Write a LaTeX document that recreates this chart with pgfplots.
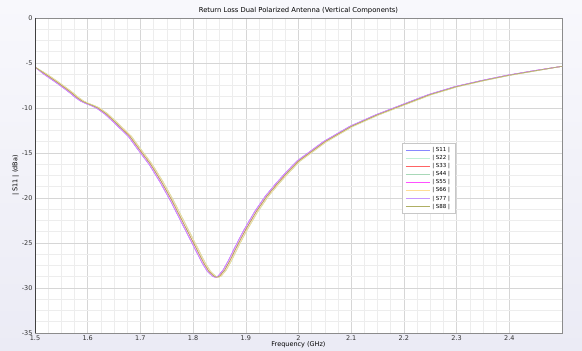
\documentclass[border=0pt]{standalone}
\usepackage{fontspec}
\setmainfont{DejaVu Sans}
\usepackage{pgfplots}
\pgfplotsset{compat=1.18}
\usepackage{pgfplotstable}

\definecolor{bgtop}{HTML}{F8F8FC}
\definecolor{bgbot}{HTML}{EBEBF5}
\definecolor{gridmaj}{HTML}{D6D6D6}
\definecolor{gridmin}{HTML}{EDEDED}
\definecolor{cS11}{HTML}{8888FF}
\definecolor{cS22}{HTML}{BFEFD6}
\definecolor{cS33}{HTML}{FF6464}
\definecolor{cS44}{HTML}{A8D8B8}
\definecolor{cS55}{HTML}{FF50FF}
\definecolor{cS66}{HTML}{FFDC96}
\definecolor{cS77}{HTML}{C896FF}
\definecolor{cS88}{HTML}{AFAF64}

% Return loss of the eight vertical ports; the ports differ by a small
% frequency offset, so three frequency columns share one magnitude column.
\pgfplotstableread{
f      fA     fC     dB
1.50   1.500  1.500  -5.45
1.52   1.517  1.523  -6.25
1.54   1.537  1.543  -7.05
1.56   1.557  1.563  -7.90
1.57   1.567  1.573  -8.35
1.58   1.577  1.583  -8.85
1.59   1.587  1.593  -9.25
1.60   1.597  1.603  -9.52
1.61   1.607  1.613  -9.74
1.62   1.617  1.623  -10.02
1.635  1.632  1.638  -10.65
1.65   1.647  1.653  -11.45
1.68   1.677  1.683  -13.15
1.70   1.697  1.703  -14.75
1.72   1.717  1.723  -16.30
1.74   1.737  1.743  -18.20
1.76   1.757  1.763  -20.30
1.78   1.777  1.783  -22.60
1.80   1.797  1.803  -24.90
1.82   1.817  1.823  -27.20
1.83   1.827  1.833  -28.15
1.84   1.837  1.843  -28.70
1.845  1.842  1.848  -28.80
1.85   1.847  1.853  -28.70
1.86   1.857  1.863  -28.00
1.87   1.867  1.873  -26.95
1.88   1.877  1.883  -25.75
1.89   1.887  1.893  -24.60
1.90   1.897  1.903  -23.50
1.92   1.917  1.923  -21.50
1.94   1.937  1.943  -19.80
1.96   1.957  1.963  -18.40
1.98   1.977  1.983  -17.10
2.00   1.997  2.003  -15.90
2.05   2.047  2.053  -13.75
2.10   2.097  2.103  -12.05
2.15   2.147  2.153  -10.75
2.20   2.197  2.203  -9.62
2.25   2.247  2.253  -8.50
2.30   2.297  2.303  -7.62
2.35   2.347  2.353  -6.95
2.40   2.397  2.403  -6.35
2.45   2.447  2.453  -5.85
2.50   2.500  2.500  -5.37
}\rl

\begin{document}
\begin{tikzpicture}[x=1pt,y=1pt]
\shade[top color=bgtop, bottom color=bgbot] (0,0) rectangle (582,351);
\useasboundingbox (0,0) rectangle (582,351);
\begin{axis}[
  at={(35pt,18pt)}, anchor=south west,
  width=527pt, height=315pt, scale only axis,
  xmin=1.5, xmax=2.5, ymin=-35, ymax=0,
  xtick={1.5,1.6,1.7,1.8,1.9,2,2.1,2.2,2.3,2.4},
  ytick={-35,-30,-25,-20,-15,-10,-5,0},
  minor x tick num=3, minor y tick num=3,
  grid=both,
  major grid style={draw=gridmaj, line width=0.6pt},
  minor grid style={draw=gridmin, line width=0.5pt},
  major tick length=0pt, minor tick length=0pt,
  axis background/.style={fill=white},
  axis line style={draw=black!45, line width=0.6pt},
  /pgf/number format/assume math mode=true,
  ticklabel style={font=\fontsize{6.5}{7}\selectfont, text=black!80},
  xticklabel style={yshift=1pt},
  yticklabel style={xshift=1pt},
  title={Return Loss Dual Polarized Antenna (Vertical Components)},
  title style={font=\fontsize{6.8}{8}\selectfont, yshift=-5.5pt},
  xlabel={Frequency (GHz)},
  xlabel style={font=\fontsize{6.5}{7}\selectfont, yshift=6pt},
  ylabel={| S11 | (dBa)},
  ylabel style={font=\fontsize{6.5}{7}\selectfont, yshift=-4pt},
  legend style={at={(0.697,0.603)}, anchor=north west, draw=black!22,
    fill=white, font=\fontsize{5.5}{6}\selectfont, row sep=-1.6pt,
    inner xsep=3pt, inner ysep=2pt},
  legend cell align=left,
  legend image code/.code={\draw[#1, line width=0.8pt] (0pt,0pt) -- (24pt,0pt);},
  every axis plot/.append style={line width=0.6pt},
]
\addplot[cS11, no marks] table[x=fA, y=dB] {\rl};
\addlegendentry{| S11 |}
\addplot[cS22, no marks] table[x=fC, y=dB] {\rl};
\addlegendentry{| S22 |}
\addplot[cS33, no marks] table[x=f, y=dB] {\rl};
\addlegendentry{| S33 |}
\addplot[cS44, no marks] table[x=fC, y=dB] {\rl};
\addlegendentry{| S44 |}
\addplot[cS55, no marks] table[x=fA, y=dB] {\rl};
\addlegendentry{| S55 |}
\addplot[cS66, no marks] table[x=fC, y=dB] {\rl};
\addlegendentry{| S66 |}
\addplot[cS77, no marks] table[x=fA, y=dB] {\rl};
\addlegendentry{| S77 |}
\addplot[cS88, no marks] table[x=f, y=dB] {\rl};
\addlegendentry{| S88 |}
\draw[black!75, line width=0.7pt] (rel axis cs:0,1) -- (rel axis cs:0,0) -- (rel axis cs:1,0);
\end{axis}
\end{tikzpicture}
\end{document}
